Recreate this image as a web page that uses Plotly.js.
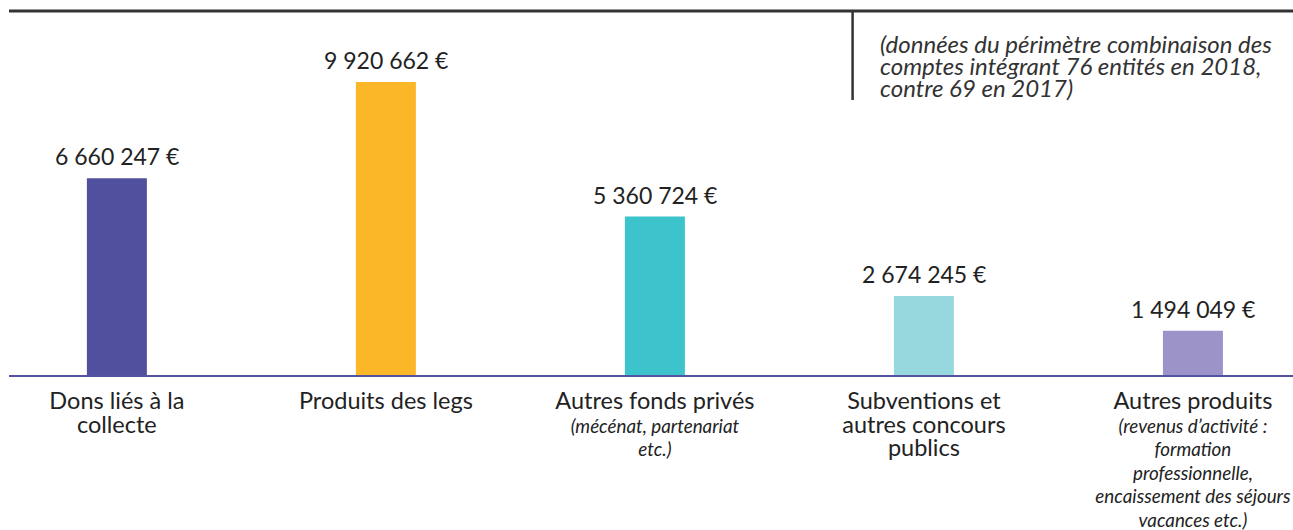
<!DOCTYPE html>
<html><head><meta charset="utf-8">
<script src="https://cdn.plot.ly/plotly-3.0.1.min.js"></script>
<style>html,body{margin:0;padding:0;background:#fff}#chart{width:1293px;height:530px}</style>
</head><body><div id="chart"></div>
<script>
var categories = ["Dons liés à la collecte","Produits des legs","Autres fonds privés","Subventions et autres concours publics","Autres produits"];
var values = [6660247, 9920662, 5360724, 2674245, 1494049];
var valueLabels = ["6 660 247 €","9 920 662 €","5 360 724 €","2 674 245 €","1 494 049 €"];
var mainLines = [
  ["Dons liés à la","collecte"],
  ["Produits des legs"],
  ["Autres fonds privés"],
  ["Subventions et","autres concours","publics"],
  ["Autres produits"]
];
var subLines = [
  [],
  [],
  ["(mécénat, partenariat","etc.)"],
  [],
  ["(revenus d’activité :","formation","professionnelle,","encaissement des séjours","vacances etc.)"]
];
var colors = ["#50509f","#fbb727","#3dc3cb","#97d8de","#9c94c8"];
var noteLines = ["(données du périmètre combinaison des","comptes intégrant 76 entités en 2018,","contre 69 en 2017)"];

var FONT = "Lato, 'Noto Sans', sans-serif";
var tickLabels = categories.map(function(c, i){
  var a = mainLines[i].map(function(s){ return '<span style="font-size:23.5px">' + s + '</span>'; });
  var b = subLines[i].map(function(s){ return '<i><span style="font-size:18.8px">' + s + '</span></i>'; });
  return a.concat(b).join("<br>");
});
var noteText = noteLines.map(function(s){ return '<i><span style="font-size:24px">' + s + '</span></i>'; }).join("<br>");

var trace = {
  type: "bar", x: categories, y: values, width: 0.223,
  marker: {color: colors}, hoverinfo: "skip"
};
var annotations = categories.map(function(c, i){
  return {x: c, y: values[i], xref: "x", yref: "y", text: valueLabels[i], showarrow: false,
    yanchor: "bottom", yshift: 6, font: {family: FONT, size: 23, color: "#222"}};
});
annotations.push({xref: "paper", yref: "paper", x: 0.677, y: 0.956, xanchor: "left", yanchor: "top",
  align: "left", showarrow: false, text: noteText, font: {family: FONT, size: 17, color: "#333"}});

var layout = {
  width: 1293, height: 530,
  margin: {l: 9, r: 0, t: 11, b: 155},
  paper_bgcolor: "#fff", plot_bgcolor: "#fff",
  showlegend: false,
  font: {family: FONT, color: "#222"},
  xaxis: {type: "category", range: [-0.401, 4.372], tickvals: categories, ticktext: tickLabels,
    showline: true, linecolor: "#5553a0", linewidth: 2, ticks: "", showgrid: false, zeroline: false,
    tickfont: {family: FONT, size: 18.2, color: "#222"}, ticklabelstandoff: 10, fixedrange: true},
  yaxis: {range: [0, 12.32e6], showticklabels: false, showgrid: false, zeroline: false, showline: false, fixedrange: true},
  shapes: [
    {type: "line", xref: "paper", yref: "paper", x0: 0, x1: 1, y0: 1, y1: 1, line: {color: "#333", width: 3}},
    {type: "line", xref: "paper", yref: "paper", x0: 0.657, x1: 0.657, y0: 1, y1: 0.7555, line: {color: "#333", width: 2.5}}
  ],
  annotations: annotations
};
Plotly.newPlot("chart", [trace], layout, {displayModeBar: false, staticPlot: true});
</script></body></html>
